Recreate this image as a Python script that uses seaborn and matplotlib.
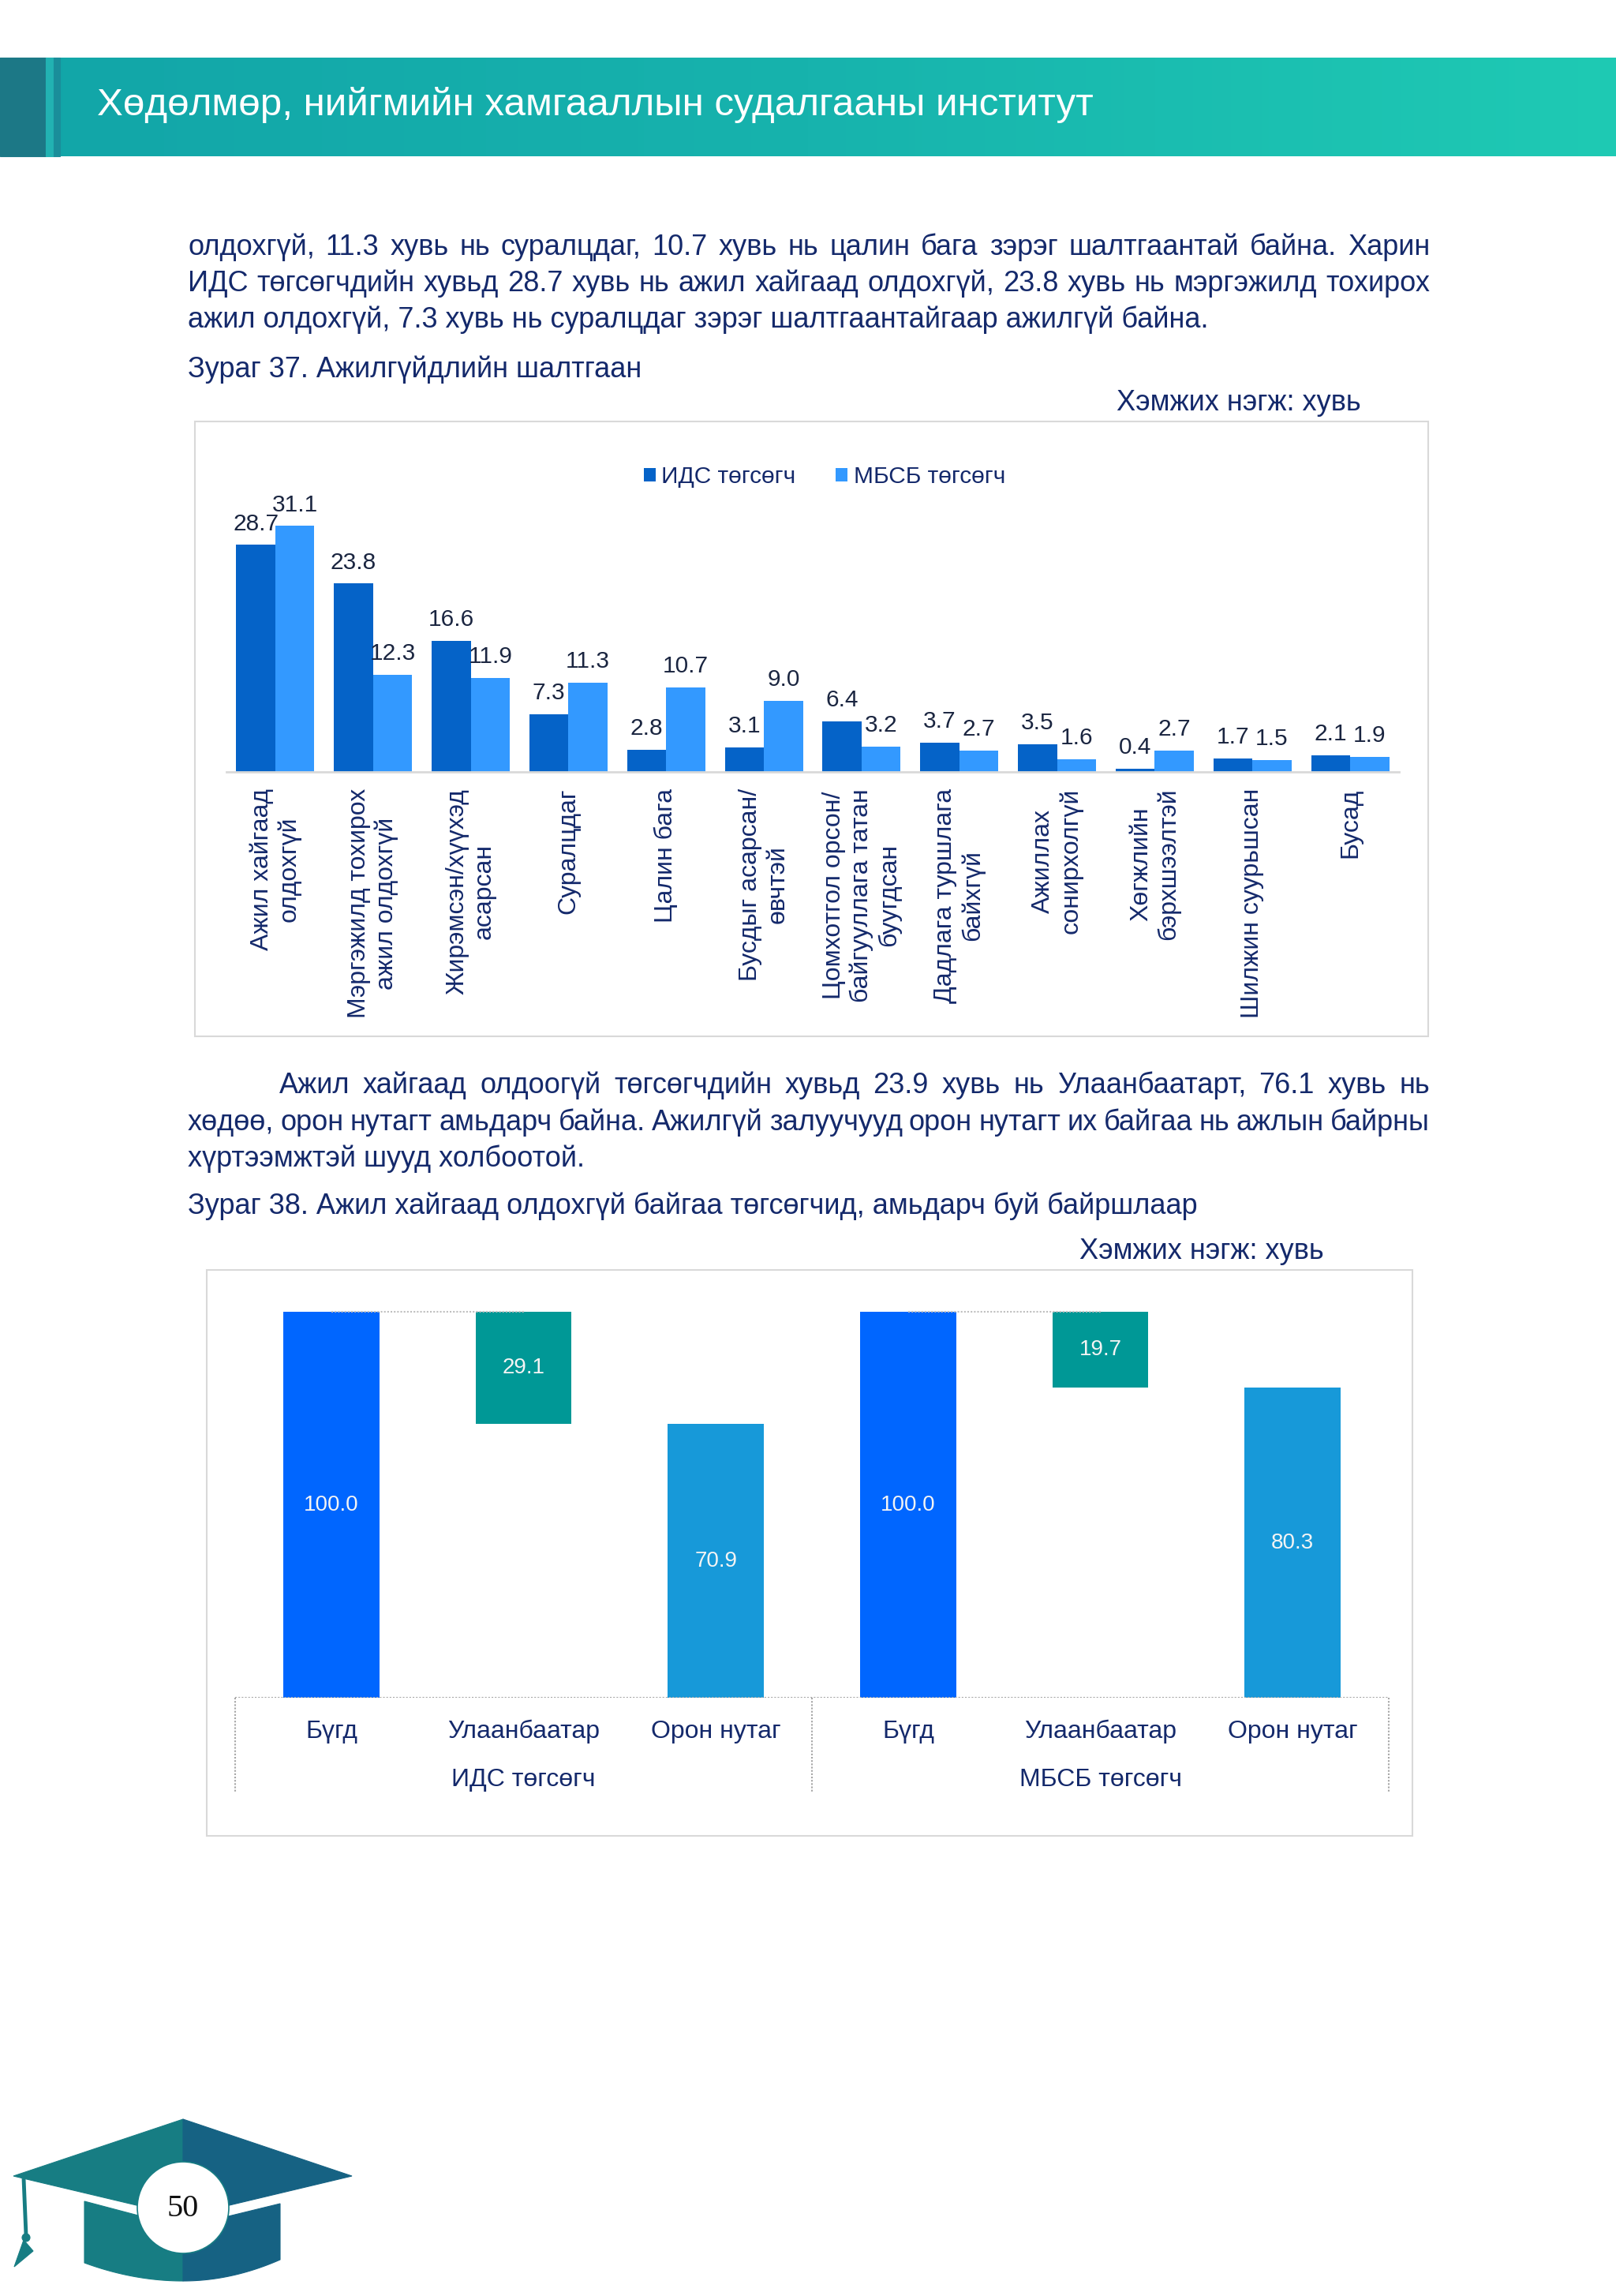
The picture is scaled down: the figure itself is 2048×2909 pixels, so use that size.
import numpy as np
import pandas as pd
import matplotlib
matplotlib.use('Agg')
from matplotlib import pyplot as plt
from matplotlib.patches import Rectangle, Polygon, Circle
from matplotlib.colors import LinearSegmentedColormap
from matplotlib.transforms import blended_transform_factory
import seaborn as sns

sns.set_theme(style='white', context='paper')
plt.rcParams['font.family'] = ['Liberation Sans', 'DejaVu Sans']

# --- Зураг 37 data
reasons = [
    'Ажил хайгаад\nолдохгүй',
    'Мэргэжилд тохирох\nажил олдохгүй',
    'Жирэмсэн/хүүхэд\nасарсан',
    'Суралцдаг',
    'Цалин бага',
    'Бусдыг асарсан/\nөвчтэй',
    'Цомхотгол орсон/\nбайгууллага татан\nбуугдсан',
    'Дадлага туршлага\nбайхгүй',
    'Ажиллах\nсонирхолгүй',
    'Хөгжлийн\nбэрхшээлтэй',
    'Шилжин суурьшсан',
    'Бусад',
]
ids_vals = [28.7, 23.8, 16.6, 7.3, 2.8, 3.1, 6.4, 3.7, 3.5, 0.4, 1.7, 2.1]
mbsb_vals = [31.1, 12.3, 11.9, 11.3, 10.7, 9.0, 3.2, 2.7, 1.6, 2.7, 1.5, 1.9]
series = ['ИДС төгсөгч', 'МБСБ төгсөгч']

# --- Зураг 38 data
groups = ['ИДС төгсөгч', 'МБСБ төгсөгч']
places = ['Бүгд', 'Улаанбаатар', 'Орон нутаг']
total_vals = [100.0, 100.0]
ub_vals = [29.1, 19.7]
rural_vals = [70.9, 80.3]

# --- page text
header = 'Хөдөлмөр, нийгмийн хамгааллын судалгааны институт'
para1 = [
    'олдохгүй, 11.3 хувь нь суралцдаг, 10.7 хувь нь цалин бага зэрэг шалтгаантай байна. Харин',
    'ИДС төгсөгчдийн хувьд 28.7 хувь нь ажил хайгаад олдохгүй, 23.8 хувь нь мэргэжилд тохирох',
    'ажил олдохгүй, 7.3 хувь нь суралцдаг зэрэг шалтгаантайгаар ажилгүй байна.',
]
caption1 = 'Зураг 37. Ажилгүйдлийн шалтгаан'
para2 = [
    'Ажил хайгаад олдоогүй төгсөгчдийн хувьд 23.9 хувь нь Улаанбаатарт, 76.1 хувь нь',
    'хөдөө, орон нутагт амьдарч байна. Ажилгүй залуучууд орон нутагт их байгаа нь ажлын байрны',
    'хүртээмжтэй шууд холбоотой.',
]
caption2 = 'Зураг 38. Ажил хайгаад олдохгүй байгаа төгсөгчид, амьдарч буй байршлаар'
unit = 'Хэмжих нэгж: хувь'

W, H = 2048, 2909
NAVY = '#14296b'
BODY = 26


def rect(x0, y0, x1, y1):
    return [x0 / W, 1 - y1 / H, (x1 - x0) / W, (y1 - y0) / H]


fig = plt.figure(figsize=(W / 100, H / 100), dpi=100)
bg = fig.add_axes([0, 0, 1, 1])
bg.axis('off')

# header band
hdr = LinearSegmentedColormap.from_list('hdr', ['#12a5a8', '#17b3ad', '#1fcab4'])
bg.imshow(np.linspace(0, 1, 256)[None, :], cmap=hdr, extent=(0, W, 198, 73), aspect='auto', zorder=0)
bg.set_xlim(0, W)
bg.set_ylim(H, 0)
bg.add_patch(Rectangle((0, 73), 58, 125, color='#1c7886', zorder=1))
bg.add_patch(Rectangle((58, 73), 10, 125, color='#22b2b2', zorder=1))
bg.add_patch(Rectangle((68, 73), 8, 125, color='#1a8e9a', zorder=1))
bg.text(123, 146, header, color='white', fontsize=35.5, va='baseline', zorder=2)

renderer = fig.canvas.get_renderer()


def put_line(line, x0, y, x1=None):
    if x1 is None:
        bg.text(x0, y, line, fontsize=BODY, color=NAVY, va='baseline')
        return
    words = line.split(' ')
    texts = [bg.text(0, y, w, fontsize=BODY, color=NAVY, va='baseline') for w in words]
    widths = [t.get_window_extent(renderer).width for t in texts]
    gap = (x1 - x0 - sum(widths)) / (len(words) - 1)
    x = x0
    for t, w in zip(texts, widths):
        t.set_x(x)
        x += w + gap


put_line(para1[0], 238, 323, 1812)
put_line(para1[1], 238, 369, 1812)
put_line(para1[2], 238, 415)
put_line(caption1, 238, 478)
bg.text(1725, 520, unit, fontsize=BODY, color=NAVY, va='baseline', ha='right')

put_line(para2[0], 354, 1385, 1812)
put_line(para2[1], 238, 1432, 1812)
put_line(para2[2], 238, 1478)
put_line(caption2, 238, 1538)
bg.text(1678, 1595, unit, fontsize=BODY, color=NAVY, va='baseline', ha='right')

# chart frames
bg.add_patch(Rectangle((247, 534), 1563, 779, fill=False, ec='#d9d9d9', lw=1.5))
bg.add_patch(Rectangle((262, 1609), 1528, 717, fill=False, ec='#d9d9d9', lw=1.5))

# ---------------- Зураг 37
df1 = pd.DataFrame({
    'reason': reasons * 2,
    'series': [series[0]] * len(reasons) + [series[1]] * len(reasons),
    'value': ids_vals + mbsb_vals,
})
ax1 = fig.add_axes(rect(287, 627, 1773, 978))
ax1.set_facecolor('none')
sns.barplot(data=df1, x='reason', y='value', hue='series', order=reasons,
            palette=['#0563C8', '#3399FF'], saturation=1, width=0.8,
            errorbar=None, linewidth=0, ax=ax1)
ax1.set_ylim(0, 35)
ax1.set_xlim(-0.5, len(reasons) - 0.5)
for c in ax1.containers:
    ax1.bar_label(c, fmt='%.1f', padding=9, fontsize=21.5, color='#1a2540')
ax1.set_xlabel('')
ax1.set_ylabel('')
ax1.set_yticks([])
sns.despine(ax=ax1, left=True)
ax1.spines['bottom'].set_color('#d9d9d9')
ax1.spines['bottom'].set_linewidth(2)
ax1.tick_params(axis='x', length=0, pad=15, labelsize=23, labelcolor=NAVY, labelrotation=90)
for t in ax1.get_xticklabels():
    t.set_linespacing(1.2)
    t.set_va('top')
    t.set_ha('center')
sns.move_legend(ax1, 'center', bbox_to_anchor=(1045 / W, 1 - 604 / H),
                bbox_transform=fig.transFigure, ncol=2, frameon=False, title=None,
                fontsize=21.5, handlelength=0.5, handleheight=0.5,
                handletextpad=0.25, columnspacing=1.7)
for t in ax1.get_legend().get_texts():
    t.set_color(NAVY)

# ---------------- Зураг 38
rows = []
for g, t, u, r in zip(groups, total_vals, ub_vals, rural_vals):
    rows += [(g, places[0], t), (g, places[1], u), (g, places[2], r)]
df2 = pd.DataFrame(rows, columns=['group', 'place', 'value'])
df2['key'] = df2['group'] + '|' + df2['place']
totals = dict(zip(groups, total_vals))

ax2 = fig.add_axes(rect(298, 1640, 1760, 2151))
ax2.set_facecolor('none')
sns.barplot(data=df2, x='key', y='value', hue='place', order=list(df2['key']),
            palette={places[0]: '#0066FF', places[1]: '#009896', places[2]: '#1799D9'},
            saturation=1, width=0.5, dodge=False, errorbar=None, linewidth=0,
            legend=False, ax=ax2)
# floating bars for Улаанбаатар (waterfall)
for p in ax2.patches:
    i = int(round(p.get_x() + p.get_width() / 2))
    row = df2.iloc[i]
    if row['place'] == places[1]:
        p.set_y(totals[row['group']] - row['value'])
for c in ax2.containers:
    ax2.bar_label(c, fmt='%.1f', label_type='center', fontsize=20, color='#f4f4f4')

ax2.set_ylim(0, 104.5)
ax2.set_xlim(-0.5, len(df2) - 0.5)
ax2.set_xlabel('')
ax2.set_ylabel('')
ax2.set_yticks([])
sns.despine(ax=ax2, left=True, bottom=True)
ax2.set_xticks(range(len(df2)), df2['place'])
ax2.tick_params(axis='x', length=0, pad=20, labelsize=23, labelcolor=NAVY)

ax2.axhline(0, color='#a6a6a6', ls=(0, (1, 1)), lw=1.5)
for k, g in enumerate(groups):
    x0 = k * len(places)
    ax2.plot([x0, x0 + 1], [totals[g], totals[g]], color='#bfbfbf', ls=(0, (1, 1)), lw=1.5)
tr = blended_transform_factory(ax2.transData, ax2.transAxes)
for k, g in enumerate(groups):
    ax2.text(k * len(places) + 1, -0.219, g, transform=tr, ha='center', va='baseline',
             fontsize=23, color=NAVY)
for k in range(len(groups) + 1):
    xs = k * len(places) - 0.5
    ax2.plot([xs, xs], [0, -0.233], transform=tr, clip_on=False,
             color='#a6a6a6', ls=(0, (1, 1)), lw=1.5)

# page-number emblem
cx, cy = 232, 2797
bg.add_patch(Polygon([(17, 2757), (cx, 2685), (cx, 2808)], color='#177d83'))
bg.add_patch(Polygon([(cx, 2685), (446, 2757), (cx, 2808)], color='#166283'))
xl = np.linspace(107, cx, 30)
bg.add_patch(Polygon([(107, 2789), (cx, 2822)] +
                     list(zip(xl[::-1], 2867 + 23 * (1 - ((cx - xl[::-1]) / 125) ** 2))),
                     color='#177d83'))
xr = np.linspace(cx, 355, 30)
bg.add_patch(Polygon([(cx, 2822), (355, 2792)] +
                     list(zip(xr[::-1], 2863 + 27 * (1 - ((xr[::-1] - cx) / 123) ** 2))),
                     color='#166283'))
bg.plot([30, 33], [2760, 2832], color='#177d83', lw=3.5, solid_capstyle='butt')
bg.add_patch(Circle((33, 2835), 5, color='#177d83'))
bg.add_patch(Polygon([(30, 2838), (42, 2852), (18, 2872)], color='#177d83'))
bg.add_patch(Circle((cx, cy), 58, fc='white', ec='#177d83', lw=1.2))
bg.text(cx, cy + 2, '50', fontsize=29, family='Liberation Serif', ha='center', va='center',
        color='#111111')

fig.savefig('out.png', dpi=100)
